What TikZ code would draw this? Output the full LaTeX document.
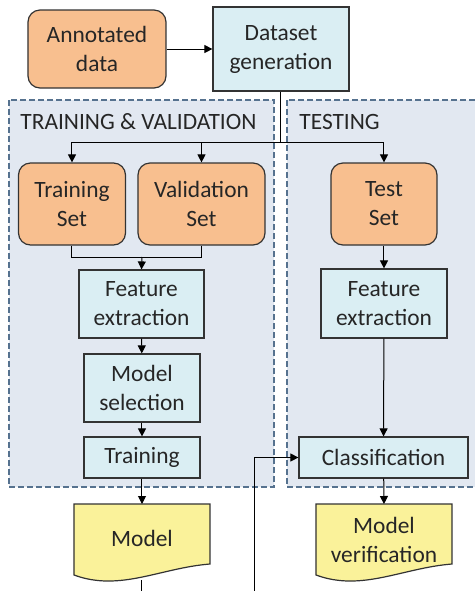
\documentclass[tikz,border=0pt]{standalone}
\usepackage{fontspec}
\setmainfont{Carlito}
\usepackage{tikz}
\usetikzlibrary{arrows.meta}
\usetikzlibrary{positioning}
\usetikzlibrary{calc}
\definecolor{setorange}{HTML}{F8BF8F}
\definecolor{procblue}{HTML}{DAEEF3}
\definecolor{docyellow}{HTML}{FAF29A}
\definecolor{panelfill}{HTML}{E2E8F1}
\definecolor{paneledge}{HTML}{56728F}
\definecolor{textgray}{HTML}{262626}
\tikzset{basic box/.style={draw=black!80,
                           line width=0.6pt,
                           align=center,
                           inner sep=0pt,
                           text=textgray}}
\tikzset{set box/.style={basic box,fill=setorange,rounded corners=6pt}}
\tikzset{proc box/.style={basic box,fill=procblue}}
\tikzset{doc box/.style={draw=black!80,line width=0.6pt,fill=docyellow}}
\tikzset{panel/.style={draw=paneledge,
                       fill=panelfill,
                       line width=0.6pt,
                       dash pattern=on 3pt off 1.5pt}}
\tikzset{link/.style={draw,line width=0.5pt}}
\tikzset{arrow/.style={link,-{Triangle[length=4pt,width=4pt]}}}

\begin{document}
\begin{tikzpicture}
      [
      x=0.5pt,y=-0.5pt,
      font=\fontsize{11.7pt}{14.5pt}\selectfont,
      ]
      \useasboundingbox (0,0) rectangle (475,591);
      \clip (0,0) rectangle (475,591);

      % panels
      \path [panel] (9,100) rectangle (274,487);
      \path [panel] (287,100) rectangle (480,487);
      \node [anchor=west,text=textgray,inner sep=0pt] (tvtitle) at (20,122) {TRAINING \& VALIDATION};
      \node [anchor=west,text=textgray,inner sep=0pt] (testtitle) at (299,122) {TESTING};

      % boxes
      \node [set box,minimum width=69pt,minimum height=39pt] (annot) at (97,49) {Annotated\\data};
      \node [proc box,minimum width=68pt,minimum height=42pt] (gen) at (281,49) {Dataset\\generation};

      \node [set box,minimum width=53.5pt,minimum height=41pt] (trainset) at (72,204) {Training\\Set};
      \node [set box,minimum width=63.5pt,minimum height=41pt] (valset) at (201.5,204) {Validation\\Set};
      \node [set box,minimum width=53pt,minimum height=41pt] (testset) at (384,204) {Test\\Set};

      \node [proc box,minimum width=62.5pt,minimum height=34pt] (featL) at (141.5,304) {Feature\\extraction};
      \node [proc box,minimum width=63pt,minimum height=34.5pt] (featR) at (384,303.5) {Feature\\extraction};
      \node [proc box,minimum width=58pt,minimum height=34pt] (modsel) at (142,388) {Model\\selection};
      \node [proc box,minimum width=58pt,minimum height=20.5pt] (train) at (142,457.5) {Training};
      \node [proc box,minimum width=84.5pt,minimum height=20.5pt] (classif) at (383.5,457.5) {Classification};

      % documents
      \path [doc box] (74,504) -- (210,504) -- (210,564)
      .. controls (160,568) and (120,592) .. (74,575) -- cycle;
      \node [align=center,text=textgray] (model) at (142,538) {Model};
      \coordinate (modeltop) at (142,504);
      \coordinate (modelbot) at (142,580);

      \path [doc box] (316,504) -- (452,504) -- (452,564)
      .. controls (402,568) and (362,592) .. (316,575) -- cycle;
      \node [align=center,text=textgray] (modver) at (384,540) {Model\\verification};
      \coordinate (vertop) at (384,504);

      % connectors
      \coordinate (split) at (281,142);
      \coordinate (join) at (142,257);
      \coordinate (below) at (255,600);

      \path [arrow] (annot) -- (gen);
      \path [link] (gen.south) -- (split);
      \path [arrow] (split) -| (trainset.north);
      \path [arrow] (split) -| (valset.north);
      \path [arrow] (split) -| (testset.north);

      \path [link] (trainset.south) |- (join);
      \path [link] (valset.south) |- (join);
      \path [arrow] (join) -- (featL.north);
      \path [arrow] (featL) -- (modsel);
      \path [arrow] (modsel) -- (train);
      \path [arrow] (train) -- (modeltop);

      \path [arrow] (testset) -- (featR);
      \path [arrow] (featR) -- (classif);
      \path [arrow] (classif) -- (vertop);

      \path [arrow] (modelbot) |- (below) |- (classif.west);

    \end{tikzpicture}
\end{document}
